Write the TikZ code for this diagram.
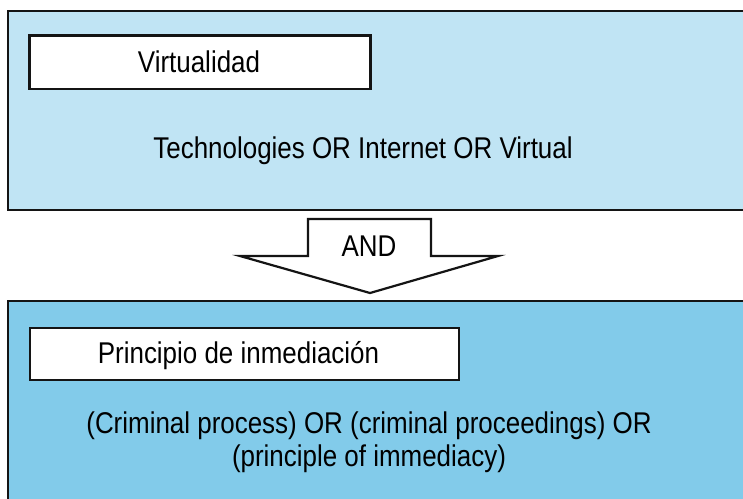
\documentclass[tikz,border=0pt]{standalone}
\usepackage{fontspec}
\setmainfont{Liberation Sans}[FakeStretch=0.865]
\definecolor{topblue}{HTML}{C0E4F4}
\definecolor{botblue}{HTML}{82CBEA}
\definecolor{edge}{HTML}{141414}
\begin{document}
\begin{tikzpicture}[x=1pt,y=-1pt,
  panel/.style={draw=edge,line width=2.2pt},
  label/.style={draw=edge,fill=white,line width=2.2pt},
  txt/.style={font=\fontsize{30}{32.5}\selectfont,text=black,align=center,inner sep=0pt}]
\useasboundingbox (0,0) rectangle (743,498);
\fill[white] (0,0) rectangle (743,498);
% top panel
\draw[panel,fill=topblue] (8,11) rectangle (760,210);
\draw[label] (29.5,35.5) rectangle (370.5,89);
\node[txt,anchor=base] (virt) at (199,72) {Virtualidad};
\node[txt,anchor=base] (q1) at (363,158) {Technologies OR Internet OR Virtual};
% arrow
\draw[draw=edge,fill=white,line width=2.2pt,line join=miter]
  (308,219) -- (431,219) -- (431,256) -- (498,256) -- (370,293) -- (240,256) -- (308,256) -- cycle;
\node[txt,anchor=base] (and) at (369,256) {AND};
% bottom panel
\draw[panel,fill=botblue] (8,301) rectangle (760,520);
\draw[label] (30,328) rectangle (459,380);
\node[txt,anchor=base] (prin) at (238.5,363) {Principio de inmediación};
\node[txt] (q2) at (369,442) {(Criminal process) OR (criminal proceedings) OR\\(principle of immediacy)};
\end{tikzpicture}
\end{document}
